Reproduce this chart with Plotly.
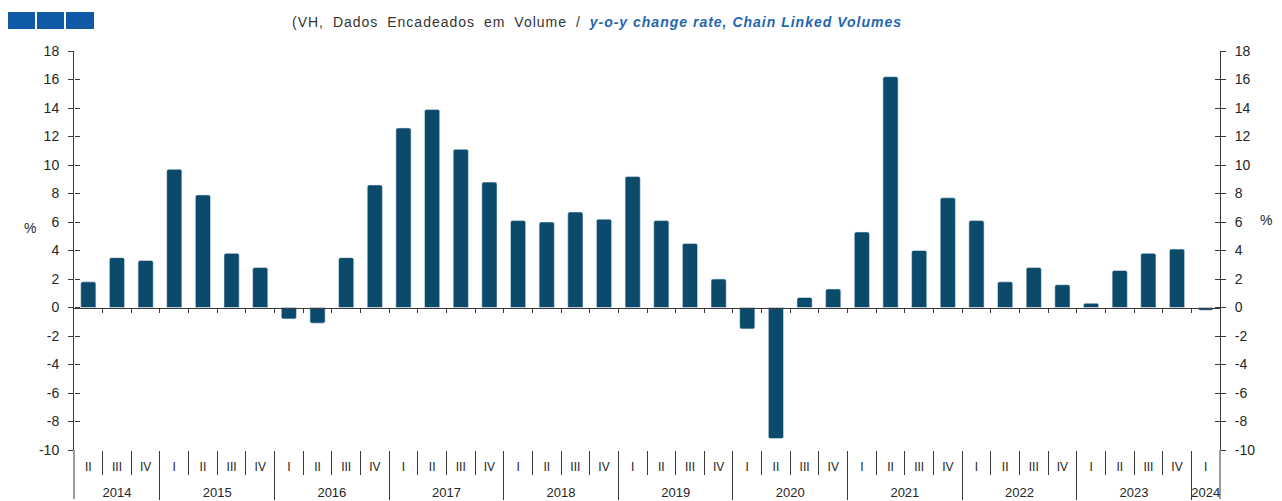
import plotly.graph_objects as go

# ---- data ----
years = ["2014", "2015", "2016", "2017", "2018", "2019", "2020", "2021", "2022", "2023", "2024"]
quarters_per_year = [["II", "III", "IV"]] + [["I", "II", "III", "IV"]] * 9 + [["I"]]
values = [1.8, 3.5, 3.3,
          9.7, 7.9, 3.8, 2.8,
          -0.8, -1.1, 3.5, 8.6,
          12.6, 13.9, 11.1, 8.8,
          6.1, 6.0, 6.7, 6.2,
          9.2, 6.1, 4.5, 2.0,
          -1.5, -9.2, 0.7, 1.3,
          5.3, 16.2, 4.0, 7.7,
          6.1, 1.8, 2.8, 1.6,
          0.3, 2.6, 3.8, 4.1,
          -0.2]
y_ticks = list(range(-10, 19, 2))
y_ticktext = [str(v) for v in y_ticks]

quarter_labels = [q for qs in quarters_per_year for q in qs]
n = len(values)
idx = list(range(n))
year_centers, year_bounds = [], []
start = 0
for qs in quarters_per_year:
    year_centers.append(start + (len(qs) - 1) / 2)
    start += len(qs)
    if start < n:
        year_bounds.append(start - 0.5)
quarter_bounds = [i + 0.5 for i in range(n - 1)]

# ---- layout geometry (page body has an 8px margin) ----
OFF = 8
W, H = 1282 - OFF, 501 - OFF
L, R, T, B = 74 - OFF, 62, 51 - OFF, 51
pw, ph = W - L - R, H - T - B
def px(x):  # screenshot pixel -> paper
    return (x - OFF - L) / pw
def py(y):
    return (H - B - (y - OFF)) / ph

BAR = "#0B4A6B"
AX = "#3a3a3a"
TXT = "#262626"
FONT = "Liberation Sans, Arial, sans-serif"
ymin, ymax = -10, 18
xr = [-0.5, n - 0.5]

fig = go.Figure()
fig.add_trace(go.Bar(x=idx, y=values, width=0.53,
                     marker=dict(color=BAR, cornerradius=2, line=dict(color="#dfe8ee", width=0.6)),
                     showlegend=False))
# invisible helper traces so every overlay axis is drawn
for xa, ya in [("x2", "y"), ("x3", "y"), ("x4", "y"), ("x5", "y"), ("x", "y2"), ("x", "y3"), ("x", "y4")]:
    fig.add_trace(go.Scatter(x=[None], y=[None], xaxis=xa, yaxis=ya, showlegend=False, hoverinfo="skip"))

common_x = dict(range=xr, showgrid=False, zeroline=False, automargin=False, fixedrange=True)
common_y = dict(range=[ymin, ymax], tickvals=y_ticks, ticktext=y_ticktext, showgrid=False,
                zeroline=False, automargin=False, fixedrange=True)

fig.update_layout(
    width=W, height=H,
    margin=dict(l=L, r=R, t=T, b=B),
    paper_bgcolor="white", plot_bgcolor="white",
    font=dict(family=FONT, size=13, color=TXT),
    # quarter labels
    xaxis=dict(**common_x, tickvals=idx, ticktext=quarter_labels, ticks="", showline=False,
               ticklabelstandoff=8, tickfont=dict(size=12, color=TXT)),
    # zero line with boundary ticks
    xaxis2=dict(**common_x, overlaying="x", anchor="free", position=(0 - ymin) / (ymax - ymin),
                showline=True, linecolor=AX, linewidth=1, ticks="outside", ticklen=4,
                tickcolor=AX, tickvals=quarter_bounds, showticklabels=False),
    # year labels
    xaxis3=dict(**common_x, overlaying="x", anchor="free", position=0, tickvals=year_centers,
                ticktext=years, ticks="", showline=False, ticklabelstandoff=33,
                tickfont=dict(size=13, color=TXT)),
    # quarter separators
    xaxis4=dict(**common_x, overlaying="x", anchor="free", position=0, tickvals=quarter_bounds,
                ticks="outside", ticklen=24, tickcolor=AX, tickwidth=1, showticklabels=False,
                showline=False),
    # year separators
    xaxis5=dict(**common_x, overlaying="x", anchor="free", position=0, tickvals=year_bounds,
                ticks="outside", ticklen=49, tickcolor=AX, tickwidth=1, showticklabels=False,
                showline=False),
    yaxis=dict(**common_y, showline=True, linecolor=AX, linewidth=1, ticks="outside", ticklen=5,
               tickcolor=AX, ticklabelstandoff=6, tickfont=dict(size=14, color=TXT)),
    yaxis2=dict(**common_y, overlaying="y", side="right", anchor="x", showline=True, linecolor=AX,
                linewidth=1, ticks="outside", ticklen=5, tickcolor=AX, ticklabelstandoff=6,
                tickfont=dict(size=14, color=TXT)),
    yaxis3=dict(**common_y, overlaying="y", side="left", anchor="free", position=0, ticks="inside",
                ticklen=5, tickcolor=AX, showticklabels=False, showline=False),
    yaxis4=dict(**common_y, overlaying="y", side="right", anchor="free", position=1, ticks="inside",
                ticklen=5, tickcolor=AX, showticklabels=False, showline=False),
)

# vertical axis line extensions through the category label area
for xp in (0, 1):
    fig.add_shape(type="line", xref="paper", yref="paper", x0=xp, x1=xp, y0=py(499), y1=0,
                  line=dict(color=AX, width=1))

# header squares
SQ = "#0E5AA7"
for x0, x1 in [(8, 35), (37, 64), (66, 94)]:
    fig.add_shape(type="rect", xref="paper", yref="paper", x0=px(x0), x1=px(x1),
                  y0=py(29), y1=py(12), fillcolor=SQ, line=dict(width=0))

fig.add_annotation(xref="paper", yref="paper", x=px(290), y=py(22), xanchor="left", yanchor="middle",
                   showarrow=False, font=dict(size=14, color="#333333", family=FONT),
                   text="<span style='letter-spacing:1px;word-spacing:4px'>(VH, Dados Encadeados em Volume / </span>"
                        "<span style='color:#1F66B0;letter-spacing:1px'><b><i>y-o-y change rate, Chain Linked Volumes</i></b></span>")
fig.add_annotation(xref="paper", yref="paper", x=px(22), y=py(228), showarrow=False,
                   text="%", font=dict(size=14, color=TXT))
fig.add_annotation(xref="paper", yref="paper", x=px(1274), y=py(220), showarrow=False,
                   text="%", font=dict(size=14, color=TXT))

fig.write_html("out.html")
